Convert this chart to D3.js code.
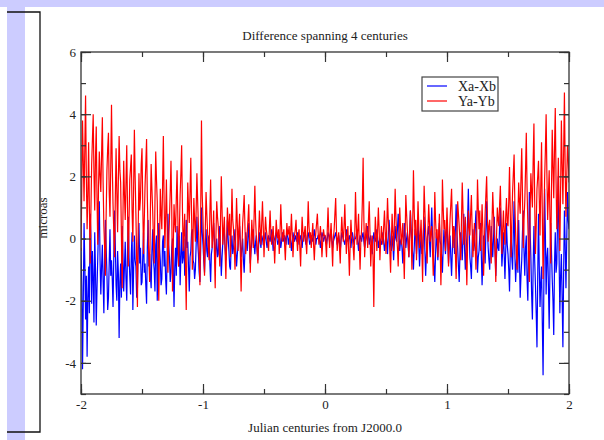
<!DOCTYPE html>
<html>
<head>
<meta charset="utf-8">
<script src="https://cdn.jsdelivr.net/npm/d3@7"></script>
<style>
  body { margin: 0; background: #fff; }
  text { font-family: "Liberation Serif", "Times New Roman", serif; fill: #222; }
</style>
</head>
<body>
<div id="chart"></div>
<script>
// time span of the comparison, in julian centuries from J2000.0
const tStart = -2;
const tEnd = 2;

const xTicks = [-2, -1, 0, 1, 2];
const yTicks = [-4, -2, 0, 2, 4, 6];
const seriesNames = ["Xa-Xb", "Ya-Yb"];
const seriesColors = ["#0000ff", "#ff0000"];

// Xa-Xb, microarcseconds, evenly spaced samples from -2 to 2 (40 per row = 0.25 century)
const xDiff = [
  -0.3, -1.5, -4.2, -2.0, 0.5, -0.8, -2.6, -1.2, -3.8, -1.9, -0.9, -2.4, 0.8, 0.1, -2.1, -0.4, -1.3, -2.7, 0.2, -1.0,
  -2.8, -1.6, -0.6, 0.4, 1.2, -0.7, -1.8, -0.9, -0.2, -1.4, -2.4, -0.5, 0.6, -0.3, -1.1, -2.3, -1.9, -0.8, 0.3, -1.2,
  -0.7, -1.3, -2.2, -0.6, 0.9, -0.2, -1.5, -2.0, -0.4, -1.1, -3.2, -1.4, -0.8, -1.9, 0.4, -0.5, -1.7, -0.9, -0.1, -1.3,
  -2.0, -0.4, 0.7, -0.6, -1.2, -1.8, -0.5, 0.2, -2.3, -1.0, 0.1, -0.7, -0.9, -1.9, -1.6, -0.3, 0.5, -0.8, -0.3, -1.5,
  -1.4, -0.6, 0.2, -1.1, -0.8, -1.5, -2.1, -0.3, 0.6, -0.9, -0.5, -1.2, -1.6, -0.4, 0.3, -0.7, -1.0, -1.7, -0.2, 0.1,
  -2.0, -0.8, 0.5, -0.3, -0.7, -1.5, -1.3, -0.1, 0.1, -0.9, -0.4, -1.3, -1.8, -0.5, 0.8, -0.2, -0.6, -1.4, -1.1, -0.3,
  0.0, -1.0, -2.2, -0.9, -0.3, -1.2, 0.4, -0.5, -0.9, 0.1, -1.5, -0.6, 0.2, -0.8, -0.6, 0.0, -1.2, -0.4, 0.6, -0.3,
  -0.1, -0.9, -1.7, -0.6, -0.4, 0.2, 0.3, -0.7, -0.8, -1.3, -1.0, -0.2, 0.7, -0.1, -0.5, -1.1, -1.4, -0.3, 1.0, 0.2,
  -0.2, -0.7, -1.1, -0.2, 0.3, -0.4, -0.6, 0.0, 0.1, -0.8, -1.4, -0.5, -0.3, 0.2, 0.5, -0.1, -0.8, -0.3, 0.0, -0.6,
  -0.5, 0.1, 0.4, -0.4, -1.2, -0.6, -0.1, 0.3, 0.2, -0.3, -0.7, -0.2, 0.6, 0.0, -0.4, -0.9, -1.0, -0.2, 0.1, -0.5,
  -0.3, 0.0, 0.3, -0.4, -0.9, -0.5, -0.2, 0.1, 0.4, -0.2, -0.6, -0.3, 0.0, -0.7, -1.1, -0.4, 0.2, -0.1, -0.4, 0.1,
  0.5, -0.3, -0.8, -0.4, -0.1, 0.2, 0.3, -0.2, -0.5, -0.1, 0.1, -0.4, -0.7, -0.2, 0.2, -0.1, -0.3, 0.1, 0.0, -0.2,
  -0.2, 0.0, 0.2, -0.1, -0.3, -0.1, 0.1, 0.0, -0.1, 0.1, 0.3, 0.0, -0.4, -0.1, 0.0, 0.1, 0.2, 0.0, -0.2, -0.1,
  0.1, 0.0, -0.3, -0.1, 0.2, 0.0, -0.1, 0.1, 0.0, -0.2, 0.3, 0.1, -0.2, 0.0, 0.1, -0.1, -0.4, -0.1, 0.2, 0.0,
  -0.1, 0.1, 0.0, -0.1, 0.2, 0.0, -0.2, 0.0, 0.1, -0.1, -0.3, 0.0, 0.2, 0.1, 0.0, -0.2, -0.1, 0.1, 0.2, 0.0,
  -0.2, -0.1, 0.1, 0.0, -0.1, 0.1, 0.3, 0.0, -0.2, 0.0, 0.0, 0.1, 0.1, -0.1, -0.3, 0.0, 0.2, 0.1, -0.1, 0.0,
  0.1, 0.0, -0.2, 0.0, 0.2, 0.1, -0.1, 0.1, 0.3, 0.0, -0.3, -0.1, 0.0, 0.1, 0.2, 0.0, -0.2, -0.1, 0.1, -0.1,
  -0.4, -0.1, 0.2, 0.1, 0.0, -0.1, -0.2, 0.0, 0.3, 0.1, -0.1, 0.0, 0.1, -0.1, -0.3, 0.0, 0.2, 0.0, -0.2, 0.0,
  0.0, 0.1, 0.3, -0.1, -0.4, -0.1, 0.1, 0.0, -0.1, 0.1, 0.2, -0.1, -0.3, -0.1, 0.0, 0.2, 0.4, 0.1, -0.2, 0.0,
  0.1, -0.2, -0.5, -0.1, 0.2, 0.0, -0.1, 0.1, 0.3, 0.0, -0.3, -0.1, 0.0, -0.1, -0.2, 0.0, 0.2, -0.1, -0.4, -0.2,
  0.2, -0.1, -0.5, 0.1, 0.6, 0.2, -0.2, -0.4, 0.1, -0.2, -0.7, -0.1, 0.4, 0.0, -0.1, 0.3, 0.8, 0.2, -0.4, -0.1,
  0.0, -0.3, -0.8, -0.2, 0.5, 0.1, -0.3, 0.0, 0.2, -0.2, -0.6, 0.1, 0.9, 0.3, -0.2, -0.5, -1.0, -0.3, 0.3, 0.0,
  -0.5, 0.0, 0.6, -0.2, -0.9, -0.3, 0.1, -0.5, -0.3, 0.2, 0.7, -0.4, -1.2, -0.5, 0.0, 0.2, 0.4, -0.1, -0.6, 0.3,
  1.0, 0.1, -0.4, -0.9, -1.4, -0.5, 0.2, -0.2, -0.7, 0.0, 0.5, -0.1, -0.2, -0.6, -1.1, -0.3, 0.3, -0.1, -0.5, 0.1,
  0.6, -0.2, -0.8, -0.3, 0.1, -0.6, -1.2, -0.4, 0.4, 0.0, -0.5, 0.3, 1.1, 0.2, -0.3, -0.9, -1.4, -0.5, 0.2, -0.2,
  -0.7, 0.1, 0.8, -0.3, -1.0, -0.4, 0.0, 0.6, 1.6, 0.4, -0.6, -0.9, -1.3, -0.2, 0.3, -0.4, -0.2, 0.4, 0.9, -0.1,
  -1.1, -0.6, -0.4, 0.1, 0.5, -0.5, -1.5, -0.7, 0.1, -0.3, -0.8, 0.2, 1.2, 0.3, -0.3, -0.7, -1.0, -0.2, 0.4, -0.1,
  -0.6, 0.0, 0.7, -0.4, -1.2, -0.5, 0.0, -0.3, -0.4, 0.4, 1.0, 0.1, -0.9, -0.4, 0.2, -0.5, -1.3, -0.4, 0.5, -0.2,
  -0.5, -1.0, -1.7, -0.4, 0.3, -0.6, -1.0, 0.2, 1.2, -0.5, -1.4, -0.8, -0.2, -1.1, 0.6, -0.6, -1.9, -1.2, -0.7, 0.2,
  0.9, -0.4, -1.2, -0.3, 0.1, -1.3, -2.0, -0.4, 1.5, 0.3, -0.6, -1.8, -2.6, -0.9, 0.4, -0.7, -1.5, -2.4, -3.5, -1.2,
  0.8, -0.9, -2.2, -1.4, -0.9, -2.7, -4.4, -1.6, 1.6, 0.2, -1.8, -0.6, -0.3, -1.5, -2.9, -1.0, 0.5, -0.4, -1.3, -2.0,
  -3.1, -0.8, 0.2, -1.1, -0.8, 0.6, 2.0, -0.6, -2.4, -1.2, -0.5, -1.9, -3.5, -1.0, 0.9, -0.2, -1.6, -0.1, 1.5, 0.6,
  0.3
];

// Ya-Yb, same sampling
const yDiff = [
  -0.4, 1.6, 3.8, 2.5, 1.2, 2.9, 4.6, 2.0, 0.3, 1.4, 3.1, 1.0, -0.8, 0.9, 2.4, 3.2, 4.0, 2.1, 0.9, 2.6,
  3.6, 1.3, -0.2, 1.7, 2.8, 2.0, 1.5, 2.7, 3.9, 1.8, 0.4, -0.3, -1.2, 0.8, 2.2, 2.9, 3.4, 1.5, 0.7, 2.3,
  4.3, 2.4, 1.1, 0.2, -0.6, 1.3, 2.9, 1.5, 0.2, 1.9, 3.3, 2.2, 1.8, 0.1, -1.6, 0.7, 2.5, 1.4, 0.6, 1.8,
  3.0, 1.0, -0.9, 0.6, 1.9, 2.3, 2.7, 0.9, -0.1, 1.6, 3.5, 2.0, 0.8, -0.7, -2.2, 0.3, 2.1, 0.9, 1.3, 2.4,
  2.9, 1.1, -0.5, 0.6, 1.7, 2.4, 3.2, 1.3, 0.1, -0.6, -1.4, 0.9, 2.4, 1.6, 0.9, 0.0, -0.8, 1.2, 2.8, 1.9,
  1.2, -0.4, -2.0, -0.2, 1.6, 0.8, 0.3, 1.7, 3.3, 1.2, -0.3, 0.7, 1.9, 0.4, -1.1, -0.1, 0.6, 1.5, 2.5, 1.0,
  -1.7, -0.3, 1.1, 0.5, 0.2, 1.3, 2.2, 0.7, -0.9, 0.2, 1.4, 2.1, 3.0, 1.0, -0.4, 0.2, 0.8, -0.8, -2.3, -0.1,
  1.8, 1.0, 0.5, 1.5, 2.6, 0.8, -1.0, 0.1, 1.3, 0.6, -0.1, 0.9, 2.1, 1.2, 0.4, -0.6, -1.5, 0.9, 3.8, 1.4,
  0.6, -0.4, -1.2, 0.3, 1.5, 0.8, 0.2, -0.3, -0.7, 0.8, 1.9, 0.6, -0.3, 0.2, 0.9, -0.5, -1.6, 0.1, 1.2, 0.7,
  0.4, -0.2, -0.9, 0.6, 2.0, 0.9, -0.2, 0.3, 0.7, -0.4, -1.3, -0.1, 1.0, 0.5, 0.1, 0.8, -0.6, 0.3, 1.6, 0.6,
  0.3, -0.3, -1.0, 0.2, 1.3, 0.5, -0.4, 0.3, 0.8, -0.5, -1.7, -0.4, 0.5, 0.9, 1.4, 0.4, -0.5, -0.1, 0.2, 0.6,
  1.1, 0.1, -1.1, -0.2, 0.6, 0.1, -0.3, 0.7, 1.7, 0.6, 0.0, -0.4, -0.8, 0.2, 0.9, 0.3, -0.2, 0.5, 1.2, 0.4,
  -0.6, 0.1, 0.7, 0.3, 0.1, -0.1, -0.4, 0.3, 0.9, 0.2, -0.2, 0.1, 0.4, -0.2, -0.8, -0.1, 0.6, 0.2, 0.0, 0.3,
  -0.5, 0.2, 1.1, 0.4, -0.1, 0.1, 0.3, -0.2, -0.7, 0.0, 0.5, 0.1, 0.2, 0.4, -0.3, 0.2, 0.8, 0.1, -0.6, 0.0,
  0.1, 0.3, 0.6, 0.0, -0.4, 0.1, 0.3, -0.3, -0.9, 0.0, 0.7, 0.2, -0.1, 0.2, 0.4, -0.1, -0.5, 0.3, 1.2, 0.4,
  0.0, 0.2, -0.3, 0.1, 0.5, -0.2, -0.7, -0.1, 0.2, 0.5, 0.8, 0.2, -0.2, 0.1, 0.4, 0.0, -0.6, -0.1, 0.3, 0.1,
  0.1, -0.2, -0.6, 0.3, 1.0, 0.2, -0.3, 0.1, 0.5, -0.2, -0.9, 0.0, 0.3, 0.8, 1.3, 0.3, -0.4, 0.0, 0.2, -0.3,
  -0.8, 0.1, 0.7, 0.2, -0.1, 0.4, 1.1, 0.2, -0.5, 0.0, 0.4, -0.4, -1.2, -0.2, 0.6, 0.1, 0.0, -0.3, -0.7, 0.1,
  1.5, 0.5, -0.2, 0.3, 0.8, -0.2, -1.0, -0.1, 0.3, 1.2, 2.6, 0.6, -0.6, 0.0, 0.5, 0.1, -0.3, 0.6, 1.2, 0.2,
  -0.9, -0.2, 0.1, -0.6, -2.2, -0.3, 0.7, 0.2, -0.4, 0.3, 1.0, 0.3, -0.7, -0.1, 0.4, 0.0, -0.2, 0.4, 0.9, 0.2,
  -0.5, 0.4, 1.3, 0.6, 0.2, -0.4, -1.1, -0.1, 0.8, 0.2, -0.4, 0.5, 1.6, 0.7, 0.0, -0.3, -0.9, 0.1, 1.0, 0.4,
  -0.2, 0.1, 0.5, -0.4, -1.3, 0.0, 1.4, 0.8, 0.3, -0.1, -0.6, 0.2, 0.9, 0.1, -1.0, 0.4, 2.2, 0.9, 0.1, 0.6,
  -0.7, 0.2, 1.2, 0.4, -0.3, 0.1, 0.6, -0.3, -1.4, 0.2, 1.7, 0.9, 0.2, -0.2, -0.8, 0.3, 1.1, 0.5, -0.1, 0.2,
  0.4, -0.4, -1.2, 0.1, 1.5, 0.6, 0.0, 0.3, -0.6, 0.1, 0.8, -0.2, -1.5, -0.3, 1.9, 1.0, 0.3, 0.6, -0.4, 0.2,
  1.0, 0.2, -0.9, -0.1, 0.6, 1.1, 1.6, 0.5, -0.3, 0.4, 0.2, -0.5, -1.3, 0.0, 1.2, 0.8, 0.4, -0.1, -0.7, 0.6,
  1.8, 0.9, -0.2, 0.3, 0.7, -0.4, -1.5, -0.2, 0.9, 0.4, 0.1, 0.8, 1.4, 0.3, -0.6, 0.0, 0.5, -0.3, -1.0, 0.2,
  1.9, 1.0, 0.3, 0.9, -0.4, 0.2, 1.1, 0.3, -1.2, -0.2, 0.8, 1.4, 2.0, 0.7, -0.1, 0.4, 0.6, -0.2, -0.8, 0.5,
  1.5, 0.8, 0.2, -0.4, -1.4, 0.1, 1.0, 0.6, 0.4, 1.1, 1.7, 0.6, -0.5, 0.3, 0.9, 0.2, -0.2, 0.7, 1.3, 0.5,
  0.4, 1.2, 2.3, 0.8, -0.6, 0.5, 1.5, 2.1, 2.7, 1.1, 0.2, -0.5, -1.0, 0.7, 1.8, 1.2, 0.8, 1.9, 2.9, 1.4,
  -0.3, 0.6, 1.2, 2.2, 3.4, 1.6, 0.5, -0.6, -1.4, 0.9, 2.1, 1.5, 1.0, 2.5, 3.7, 1.2, -0.5, 0.4, 1.6, 2.0,
  2.5, 1.3, 0.1, 1.7, 3.1, 0.8, -1.3, 0.4, 1.9, 2.8, 4.0, 2.1, 0.6, 1.4, 2.2, 0.7, -0.8, 1.5, 3.5, 2.3,
  1.3, 2.9, 4.2, 1.9, 0.3, 1.2, 2.6, 1.0, -0.4, 1.6, 3.8, 2.4, 1.1, 2.8, 4.7, 2.2, 0.7, 1.9, 3.0, 2.6,
  1.8
];

const svgWidth = 604;
const svgHeight = 440;
const margins = {top: 52, right: 35, bottom: 46, left: 81};
var width = svgWidth - margins.left - margins.right;
var height = svgHeight - margins.top - margins.bottom;

var svg = d3.select("#chart").append("svg")
    .attr("width", svgWidth)
    .attr("height", svgHeight);

// slide decoration: lavender bars and the bracket on the left
svg.append("rect").attr("x", 0).attr("y", 0).attr("width", svgWidth).attr("height", 7).attr("fill", "#ccccff");
svg.append("rect").attr("x", 7).attr("y", 7).attr("width", 18).attr("height", svgHeight - 7).attr("fill", "#ccccff");
svg.append("path")
    .attr("d", "M7,12H40V432H7")
    .attr("fill", "none")
    .attr("stroke", "#111")
    .attr("stroke-width", 1.3);

var x = d3.scaleLinear().domain([tStart, tEnd]).range([0, width]);
var y = d3.scaleLinear().domain([-5, 6]).range([height, 0]);

var g = svg.append("g")
    .attr("transform", "translate(" + margins.left + "," + margins.top + ")");

g.append("clipPath").attr("id", "plot-clip")
    .append("rect").attr("width", width).attr("height", height);

//one line per series, samples spread evenly over the time span
var series = [xDiff, yDiff];
var line = d3.line()
    .x(function(d, i, arr) { return x(tStart + i * (tEnd - tStart) / (arr.length - 1)); })
    .y(function(d) { return y(d); });

g.selectAll(".series")
    .data(series)
    .enter()
    .append("path")
    .attr("class", "series")
    .attr("clip-path", "url(#plot-clip)")
    .attr("fill", "none")
    .attr("stroke", function(d, i) { return seriesColors[i]; })
    .attr("stroke-width", 1.2)
    .attr("d", line);

// ticks point inward on all four sides, minor ticks halfway
var xMinor = d3.range(tStart, tEnd + 0.01, 0.5);
var yMinor = d3.range(-5, 6.01, 1);
var tickColor = "#333";
var plainNum = function(d) { return String(d); };

g.append("g").call(d3.axisBottom(x).tickValues(xMinor).tickSize(-5).tickFormat(""))
    .attr("transform", "translate(0," + height + ")");
g.append("g").call(d3.axisBottom(x).tickValues(xTicks).tickSize(-10).tickPadding(6).tickFormat(plainNum))
    .attr("transform", "translate(0," + height + ")")
    .attr("class", "x-axis");
g.append("g").call(d3.axisTop(x).tickValues(xMinor).tickSize(-5).tickFormat(""));
g.append("g").call(d3.axisTop(x).tickValues(xTicks).tickSize(-10).tickFormat(""));

g.append("g").call(d3.axisLeft(y).tickValues(yMinor).tickSize(-5).tickFormat(""));
g.append("g").call(d3.axisLeft(y).tickValues(yTicks).tickSize(-10).tickPadding(5).tickFormat(plainNum))
    .attr("class", "y-axis");
g.append("g").call(d3.axisRight(y).tickValues(yMinor).tickSize(-5).tickFormat(""))
    .attr("transform", "translate(" + width + ",0)");
g.append("g").call(d3.axisRight(y).tickValues(yTicks).tickSize(-10).tickFormat(""))
    .attr("transform", "translate(" + width + ",0)");

g.selectAll(".domain").remove();
g.selectAll(".tick line").attr("stroke", tickColor).attr("stroke-width", 1.2);
g.selectAll("g").attr("font-family", null).attr("font-size", null);
g.selectAll(".tick text")
    .style("font-family", "'Liberation Serif', serif")
    .style("font-size", "13px")
    .attr("fill", "#222");

// frame around the plot
g.append("rect")
    .attr("width", width)
    .attr("height", height)
    .attr("fill", "none")
    .attr("stroke", tickColor)
    .attr("stroke-width", 1.3);

// titles
svg.append("text")
    .attr("x", margins.left + width / 2)
    .attr("y", 40)
    .attr("text-anchor", "middle")
    .style("font-size", "13px")
    .text("Difference spanning 4 centuries");

svg.append("text")
    .attr("x", margins.left + width / 2)
    .attr("y", 432)
    .attr("text-anchor", "middle")
    .style("font-size", "13px")
    .text("Julian centuries from J2000.0");

svg.append("text")
    .attr("transform", "translate(47,218) rotate(-90)")
    .attr("text-anchor", "middle")
    .style("font-size", "13px")
    .text("microas");

// legend
var legend = svg.append("g").attr("transform", "translate(422,77)");
legend.append("rect")
    .attr("width", 76)
    .attr("height", 34)
    .attr("fill", "#fff")
    .attr("stroke", "#444")
    .attr("stroke-width", 1.2);

var item = legend.selectAll(".item")
    .data(seriesNames)
    .enter()
    .append("g")
    .attr("class", "item")
    .attr("transform", function(d, i) { return "translate(0," + (9 + i * 15) + ")"; });

item.append("line")
    .attr("x1", 5).attr("x2", 25)
    .attr("stroke", function(d, i) { return seriesColors[i]; })
    .attr("stroke-width", 1.2);

item.append("text")
    .attr("x", 36)
    .attr("dy", "0.35em")
    .style("font-size", "14px")
    .text(function(d) { return d; });
</script>
</body>
</html>
